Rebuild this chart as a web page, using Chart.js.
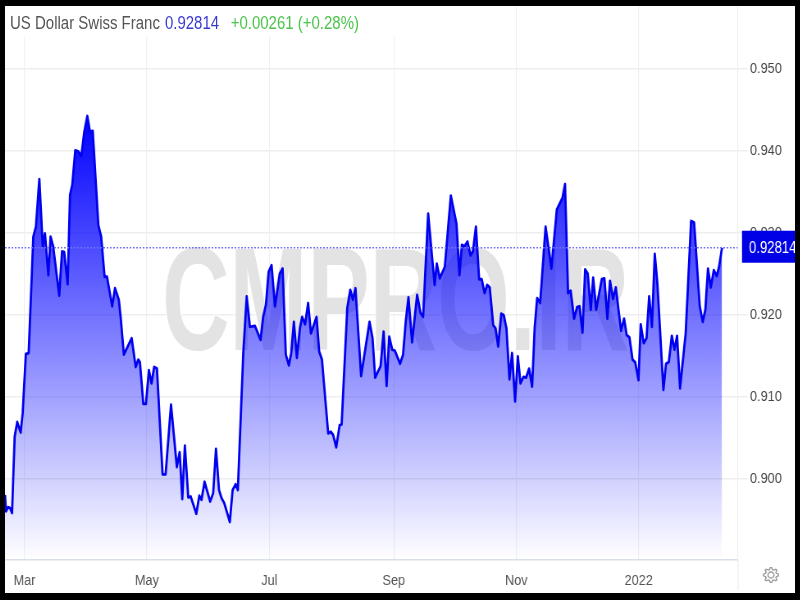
<!DOCTYPE html>
<html>
<head>
<meta charset="utf-8">
<title>US Dollar Swiss Franc</title>
<script src="https://cdn.jsdelivr.net/npm/chart.js@4/dist/chart.umd.min.js"></script>
<style>
    html, body { margin: 0; padding: 0; width: 800px; height: 600px; background: #000; overflow: hidden; }
    #box { position: absolute; left: 5px; top: 6px; width: 790px; height: 587px; background: #fff; overflow: hidden; }
    /* the reference is squeezed sideways, so the whole canvas is too */
    #usdchf { position: absolute; left: 0; top: 0; transform: scaleX(0.82); transform-origin: 0 0; }
    #head { position: absolute; left: 0; top: 0; width: 390px; height: 31px; background: #fff; }
    #head div { position: absolute; left: 5px; top: 0; transform: scaleX(0.82); transform-origin: 0 0; font: 18.3px "Liberation Sans", Arial, sans-serif; line-height: 34px; white-space: nowrap; color: #555; }
    #head .price { color: #3a3ad0; margin-left: 1px; }
    #head .change { color: #4cc44c; margin-left: 9px; }
</style>
</head>
<body>
<div id="box">
    <canvas id="usdchf" width="963" height="587"></canvas>
    <div id="head"><div>US Dollar Swiss Franc <span class="price">0.92814</span> <span class="change">+0.00261 (+0.28%)</span></div></div>
</div>
<script>
// Days counted from 1 March 2021
var days = [-9.7,-9.2,-8.2,-7.2,-6.2,-4.9,-3.6,-1.9,-0.9,0.7,2.1,4.4,5.7,7.4,9.1,10.2,11.9,13,14.3,17.3,18.7,19.8,21.5,22.7,23.8,25.3,26.8,28.3,29.8,31.3,32.6,34,36.8,38.2,39.9,41.1,43.7,45.1,47,47.9,49.5,53.4,55.4,56.7,57.5,59.2,60.5,62,63.3,64.6,66,68.8,70.3,73,75.9,77.3,78.6,79.9,81.6,82.8,85.6,87.1,88.2,89.7,92.5,94,95.4,96.9,98.2,99.5,102.3,103.7,105.2,106.3,109,110.7,112.3,114.8,117.6,118.9,120.3,121.6,123.1,124.8,127.2,128.6,130.2,131.7,132.9,134.2,135.7,137.2,138.3,139.8,141.3,142.7,145.5,146.8,148.2,151.3,152.6,153.8,155.3,157,158,160.8,162.3,163.6,164.9,167.7,171.9,173.4,174.7,177.4,178.9,180.4,181.7,183.2,184.5,187.1,188.6,190,191.3,193.1,195.6,197.3,198.6,201.1,204.3,205.4,206.9,209.4,212.4,215.2,216.7,217.9,219.2,220.7,222.2,223.4,224.9,226.5,227.8,229.2,230.5,231.8,233.5,234.7,236,237.5,238.8,240.1,241.6,242.9,244.4,245.8,247.1,248.6,249.9,251.4,252.9,254.2,255.4,256.9,259.6,262.5,265.2,268,269.3,270.8,272.1,273.8,275.3,276.5,278,279.3,280.6,282.1,283.3,284.8,287.6,288.9,290.4,291.7,293.2,294.6,297.2,298.7,300,301.4,302.9,304.2,305.9,307,308.5,309.9,311.2,312.6,314,315.3,318.3,319.6,321,322.5,323.8,325.1,326.6,329.4,332.1,333.6,336.4,337.9,339.2,340.5,341.9,343.4,344.9,346,347.5];
var rates = [0.8980,0.8960,0.8965,0.8964,0.8958,0.9051,0.9069,0.9056,0.9080,0.9152,0.9153,0.9295,0.9307,0.9365,0.9283,0.9299,0.9248,0.9295,0.9283,0.9223,0.9277,0.9276,0.9237,0.9346,0.9358,0.9400,0.9399,0.9393,0.9423,0.9442,0.9423,0.9424,0.9309,0.9295,0.9246,0.9246,0.9210,0.9232,0.9218,0.9197,0.9151,0.9171,0.9136,0.9145,0.9142,0.9091,0.9091,0.9132,0.9116,0.9136,0.9134,0.9005,0.9005,0.9090,0.9014,0.9032,0.8975,0.9040,0.8977,0.8978,0.8957,0.8979,0.8974,0.8996,0.8972,0.8982,0.9036,0.8986,0.8976,0.8970,0.8947,0.8986,0.8993,0.8986,0.9153,0.9222,0.9185,0.9186,0.9169,0.9197,0.9212,0.9252,0.9260,0.9210,0.9250,0.9256,0.9151,0.9138,0.9153,0.9191,0.9147,0.9183,0.9197,0.9188,0.9214,0.9177,0.9197,0.9155,0.9145,0.9055,0.9057,0.9053,0.9038,0.9065,0.9066,0.9208,0.9230,0.9218,0.9232,0.9125,0.9191,0.9171,0.9123,0.9137,0.9179,0.9113,0.9173,0.9157,0.9156,0.9140,0.9151,0.9193,0.9221,0.9166,0.9224,0.9202,0.9197,0.9323,0.9236,0.9262,0.9244,0.9258,0.9345,0.9311,0.9248,0.9285,0.9283,0.9289,0.9272,0.9277,0.9307,0.9243,0.9243,0.9226,0.9236,0.9233,0.9187,0.9183,0.9161,0.9201,0.9199,0.9183,0.9121,0.9153,0.9094,0.9149,0.9116,0.9124,0.9123,0.9134,0.9112,0.9185,0.9220,0.9214,0.9307,0.9256,0.9328,0.9342,0.9359,0.9226,0.9229,0.9195,0.9209,0.9210,0.9178,0.9255,0.9250,0.9206,0.9245,0.9206,0.9243,0.9244,0.9195,0.9241,0.9219,0.9233,0.9180,0.9195,0.9175,0.9172,0.9145,0.9142,0.9120,0.9188,0.9165,0.9171,0.9222,0.9185,0.9274,0.9238,0.9108,0.9140,0.9142,0.9174,0.9157,0.9174,0.9110,0.9177,0.9314,0.9312,0.9210,0.9191,0.9206,0.9256,0.9233,0.9254,0.9247,0.9258,0.92814];
var monthTicks = [0, 61, 122, 184, 245, 306];
var monthLabels = ['Mar', 'May', 'Jul', 'Sep', 'Nov', '2022'];
var priceTicks = [0.90, 0.91, 0.92, 0.93, 0.94, 0.95];
var lastPrice = '0.92814';

var xMin = -9.7, xMax = 355.3;
var yMin = 0.89006, yMax = 0.95762;
var squeeze = 0.82;
var sans = '"Liberation Sans", Arial, sans-serif';

var points = days.map(function(d, i) { return { x: d, y: rates[i] }; });

// Watermark sits behind the area fill
var watermark = {
    id: 'watermark',
    beforeDatasetsDraw: function(chart) {
        var c = chart.ctx;
        c.save();
        c.translate(157 / squeeze, 344);
        c.scale(0.64 / squeeze, 1);
        c.font = 'bold 146px ' + sans;
        c.textBaseline = 'alphabetic';
        c.lineJoin = 'round';
        c.strokeStyle = 'rgba(255,255,255,0.7)';
        c.lineWidth = 4;
        c.strokeText('CMPRO.IR', 0, 0);
        c.fillStyle = '#e3e3e3';
        c.fillText('CMPRO.IR', 0, 0);
        c.restore();
    }
};

// Price tag, frame lines and the settings gear
var extras = {
    id: 'extras',
    afterDraw: function(chart) {
        var c = chart.ctx;
        var area = chart.chartArea;
        var tagY = chart.scales.y.getPixelForValue(parseFloat(lastPrice));

        c.save();
        c.strokeStyle = '#eeeeee';
        c.lineWidth = 1.2;
        c.beginPath();
        c.moveTo(area.right + 0.5, area.bottom);
        c.lineTo(area.right + 0.5, chart.height - 3);
        c.stroke();

        c.fillStyle = '#0000e6';
        c.fillRect(737 / squeeze, tagY - 17, 53 / squeeze, 32);
        c.fillStyle = '#ffffff';
        c.font = '16px ' + sans;
        c.textBaseline = 'middle';
        c.textAlign = 'left';
        c.fillText(lastPrice, 744 / squeeze, tagY + 1);

        // gear stays round, so undo the squeeze for it
        c.translate(766 / squeeze, 569);
        c.scale(1 / squeeze, 1);
        c.strokeStyle = '#9a9a9a';
        c.lineWidth = 1.3;
        c.beginPath();
        c.arc(0, 0, 3, 0, Math.PI * 2);
        c.stroke();
        c.beginPath();
        for (var i = 0; i < 32; i++) {
            var r = (i % 4 < 2) ? 7.5 : 5.6;
            var a = (i - 0.5) * Math.PI / 16;
            var px = r * Math.cos(a), py = r * Math.sin(a);
            if (i === 0) c.moveTo(px, py); else c.lineTo(px, py);
        }
        c.closePath();
        c.stroke();
        c.restore();
    }
};

new Chart(document.getElementById('usdchf').getContext('2d'), {
    type: 'line',
    plugins: [watermark, extras],
    data: {
        datasets: [
            {
                label: 'Last',
                data: [{ x: xMin, y: parseFloat(lastPrice) }, { x: xMax, y: parseFloat(lastPrice) }],
                borderColor: '#7070f2',
                borderWidth: 1.5,
                borderDash: [2, 2],
                pointRadius: 0,
                fill: false
            },
            {
                label: 'US Dollar Swiss Franc',
                data: points,
                borderColor: '#0000f0',
                borderWidth: 2.8,
                borderJoinStyle: 'round',
                pointRadius: 0,
                tension: 0,
                fill: 'origin',
                backgroundColor: function(context) {
                    var area = context.chart.chartArea;
                    if (!area) return 'rgba(0,0,255,0.5)';
                    var g = context.chart.ctx.createLinearGradient(0, 110, 0, area.bottom);
                    g.addColorStop(0, 'rgba(0,0,255,1)');
                    g.addColorStop(1, 'rgba(0,0,255,0)');
                    return g;
                }
            }
        ]
    },
    options: {
        responsive: false,
        animation: false,
        layout: { padding: 0 },
        plugins: { legend: { display: false }, tooltip: { enabled: false } },
        scales: {
            x: {
                type: 'linear',
                min: xMin,
                max: xMax,
                afterBuildTicks: function(scale) {
                    scale.ticks = monthTicks.map(function(v) { return { value: v }; });
                },
                afterFit: function(scale) {
                    scale.height = 33;
                    scale.paddingLeft = 0;
                    scale.paddingRight = 0;
                },
                grid: { color: '#eff0f3', lineWidth: 1.2, drawTicks: false },
                border: { color: '#d9dfea', width: 1.5 },
                ticks: {
                    autoSkip: false,
                    maxRotation: 0,
                    padding: 11,
                    color: '#555555',
                    font: { family: sans, size: 15.5 },
                    callback: function(value) { return monthLabels[monthTicks.indexOf(value)]; }
                }
            },
            y: {
                position: 'right',
                min: yMin,
                max: yMax,
                afterBuildTicks: function(scale) {
                    scale.ticks = priceTicks.map(function(v) { return { value: v }; });
                },
                afterFit: function(scale) {
                    scale.width = 57 / squeeze;
                    scale.paddingTop = 0;
                    scale.paddingBottom = 0;
                },
                grid: { color: '#eeeeee', lineWidth: 1.5, tickLength: 12 },
                border: { color: '#eeeeee', width: 1.2 },
                ticks: {
                    padding: 3,
                    color: '#444444',
                    font: { family: sans, size: 15.5 },
                    callback: function(value) { return value.toFixed(3); }
                }
            }
        }
    }
});
</script>
</body>
</html>
